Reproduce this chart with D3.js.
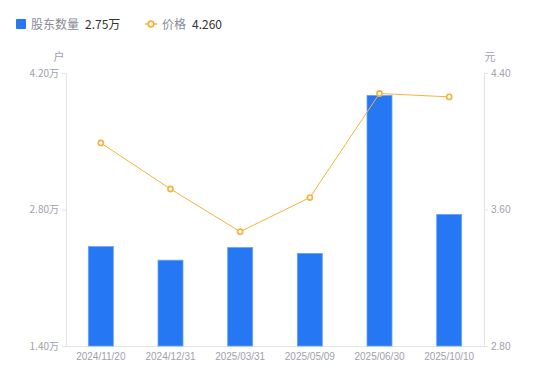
<!DOCTYPE html>
<html>
  <head>
    <meta charset="utf-8">
    <title>股东数量</title>
    <style>
      body { margin: 0; background: #fff; }
      svg { display: block; font-family: "Noto Sans CJK SC", "Noto Sans", sans-serif; }
    </style>
  </head>
  <body>
    <svg width="550" height="381"></svg>
  </body>
  <script src="https://cdn.jsdelivr.net/npm/d3@7/dist/d3.min.js"></script>
  <script type="text/javascript">
  // data
  const dates = ['2024/11/20', '2024/12/31', '2025/03/31', '2025/05/09', '2025/06/30', '2025/10/10'];
  const holders = [2.42, 2.28, 2.41, 2.35, 3.97, 2.75];   // 万户
  const prices = [3.99, 3.72, 3.47, 3.67, 4.28, 4.26];    // 元
  const leftTicks = [1.40, 2.80, 4.20];
  const rightTicks = [2.80, 3.60, 4.40];

  const svg = d3.select('svg');
  const plotL = 66, plotR = 484, plotT = 73, plotB = 346;
  const axisColor = '#e3e3e8', labelColor = '#a0a0ae';
  const blue = '#2577f4', orange = '#f7b23b';

  const x = d3.scaleBand().domain(dates).range([plotL, plotR]);
  const yL = d3.scaleLinear().domain([1.4, 4.2]).range([plotB, plotT]);
  const yR = d3.scaleLinear().domain([2.8, 4.4]).range([plotB, plotT]);

  // legend
  const lg = svg.append('g').attr('font-size', 12);
  lg.append('rect').attr('x', 16).attr('y', 19).attr('width', 10).attr('height', 10).attr('rx', 1).attr('fill', blue);
  lg.append('text').attr('x', 31).attr('y', 28.5).attr('fill', '#8a8a96').text('股东数量');
  lg.append('text').attr('x', 85).attr('y', 28.5).attr('fill', '#333').text('2.75万');
  lg.append('line').attr('x1', 145).attr('x2', 157).attr('y1', 24).attr('y2', 24).attr('stroke', orange).attr('stroke-width', 1.5);
  lg.append('circle').attr('cx', 151).attr('cy', 24).attr('r', 2.8).attr('fill', '#fff').attr('stroke', orange).attr('stroke-width', 1.8);
  lg.append('text').attr('x', 162).attr('y', 28.5).attr('fill', '#8a8a96').text('价格');
  lg.append('text').attr('x', 192).attr('y', 28.5).attr('fill', '#333').text('4.260');

  // unit labels
  svg.append('text').attr('x', 59).attr('y', 61).attr('text-anchor', 'middle').attr('font-size', 11).attr('fill', labelColor).text('户');
  svg.append('text').attr('x', 490).attr('y', 61).attr('text-anchor', 'middle').attr('font-size', 11).attr('fill', labelColor).text('元');

  function styleAxis(g) {
    g.selectAll('path, line').attr('stroke', axisColor);
    g.selectAll('text').attr('fill', labelColor).attr('font-size', 10)
      .attr('font-family', '"Liberation Sans", Arial, sans-serif');
  }

  svg.append('g').attr('transform', `translate(${plotL},0)`)
    .call(d3.axisLeft(yL).tickValues(leftTicks).tickSize(4).tickSizeOuter(0).tickPadding(3)
      .tickFormat(d => d.toFixed(2) + '万'))
    .call(styleAxis)
    .selectAll('text').attr('font-family', '"Noto Sans CJK SC", sans-serif');

  svg.append('g').attr('transform', `translate(${plotR},0)`)
    .call(d3.axisRight(yR).tickValues(rightTicks).tickSize(4).tickSizeOuter(0).tickPadding(3)
      .tickFormat(d => d.toFixed(2)))
    .call(styleAxis);

  svg.append('g').attr('transform', `translate(0,${plotB})`)
    .call(d3.axisBottom(x).tickSize(0).tickPadding(7))
    .call(styleAxis);

  // bars
  const bw = 25;
  svg.append('g').selectAll('rect').data(holders).enter().append('rect')
    .attr('x', (d, i) => x(dates[i]) + x.bandwidth() / 2 - bw / 2)
    .attr('y', d => yL(d))
    .attr('width', bw)
    .attr('height', d => plotB - yL(d))
    .attr('fill', blue)
    .attr('stroke', '#6aa3fa')
    .attr('stroke-width', 0.8);

  // price line
  const line = d3.line()
    .x((d, i) => x(dates[i]) + x.bandwidth() / 2)
    .y(d => yR(d));
  svg.append('path').datum(prices).attr('d', line)
    .attr('fill', 'none').attr('stroke', orange).attr('stroke-width', 1);
  svg.append('g').selectAll('circle').data(prices).enter().append('circle')
    .attr('cx', (d, i) => x(dates[i]) + x.bandwidth() / 2)
    .attr('cy', d => yR(d))
    .attr('r', 2.6)
    .attr('fill', '#fff')
    .attr('stroke', orange)
    .attr('stroke-width', 1.6);
  </script>
</html>
